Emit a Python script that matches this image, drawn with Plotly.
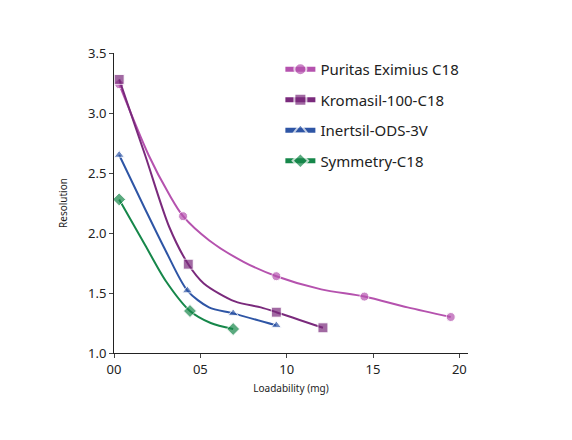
import plotly.graph_objects as go

# loadability (mg) vs resolution; markers only at measured points (size 0 = curve-shaping point)
pur_x = [0.3, 2.0, 3.2, 4.0, 5.5, 7.5, 9.4, 12.0, 14.5, 17.0, 19.5]
pur_y = [3.24, 2.65, 2.32, 2.14, 1.94, 1.76, 1.64, 1.53, 1.47, 1.38, 1.30]
pur_m = [1, 0, 0, 1, 0, 0, 1, 0, 1, 0, 1]

kro_x = [0.3, 1.8, 3.2, 4.3, 5.2, 7.0, 8.5, 9.4, 12.1]
kro_y = [3.28, 2.65, 2.05, 1.74, 1.58, 1.43, 1.38, 1.34, 1.21]
kro_m = [1, 0, 0, 1, 0, 0, 0, 1, 1]

ine_x = [0.3, 1.8, 3.0, 4.25, 5.5, 6.9, 9.4]
ine_y = [2.65, 2.2, 1.85, 1.52, 1.38, 1.33, 1.23]
ine_m = [1, 0, 0, 1, 0, 1, 1]

sym_x = [0.3, 1.8, 3.0, 4.4, 5.6, 6.9]
sym_y = [2.28, 1.9, 1.6, 1.35, 1.25, 1.20]
sym_m = [1, 0, 0, 1, 0, 1]

series = [
    ("Puritas Eximius C18", pur_x, pur_y, pur_m, "#b552ae", "circle", 9),
    ("Kromasil-100-C18", kro_x, kro_y, kro_m, "#7a2a7c", "square", 10),
    ("Inertsil-ODS-3V", ine_x, ine_y, ine_m, "#2e55a5", "triangle-up", 9),
    ("Symmetry-C18", sym_x, sym_y, sym_m, "#16874a", "diamond", 10),
]

tick_vals = [0, 5, 10, 15, 20]
tick_text = ["00", "05", "10", "15", "20"]

fig = go.Figure()
for name, xs, ys, ms, color, sym, size in series:
    fig.add_trace(go.Scatter(
        x=xs, y=ys, name=name, legendgroup=name, mode="lines+markers",
        line=dict(color=color, width=2, shape="spline", smoothing=0.8),
        marker=dict(color=color, symbol=sym, size=[size * m for m in ms]),
    ))

fig.update_layout(
    width=572, height=440,
    margin=dict(l=106, r=112, t=45, b=95),
    paper_bgcolor="white", plot_bgcolor="white",
    font=dict(family="Noto Sans", color="#222"),
    legend=dict(x=0.47, y=1.0, xanchor="left", yanchor="top",
                font=dict(size=15), itemsizing="constant", tracegroupgap=8),
    xaxis=dict(range=[0, 20.5], tickvals=tick_vals, ticktext=tick_text,
               showgrid=False, zeroline=False, showline=True, linecolor="#222",
               ticks="outside", ticklen=4, tickfont=dict(size=13),
               title=dict(text="Loadability (mg)", font=dict(size=10), standoff=8)),
    yaxis=dict(range=[1, 3.5], dtick=0.5, tickformat=".1f",
               showgrid=False, zeroline=False, showline=True, linecolor="#222",
               ticks="outside", ticklen=4, tickfont=dict(size=13),
               title=dict(text="Resolution", font=dict(size=10), standoff=18)),
)

fig.write_html("out.html")
